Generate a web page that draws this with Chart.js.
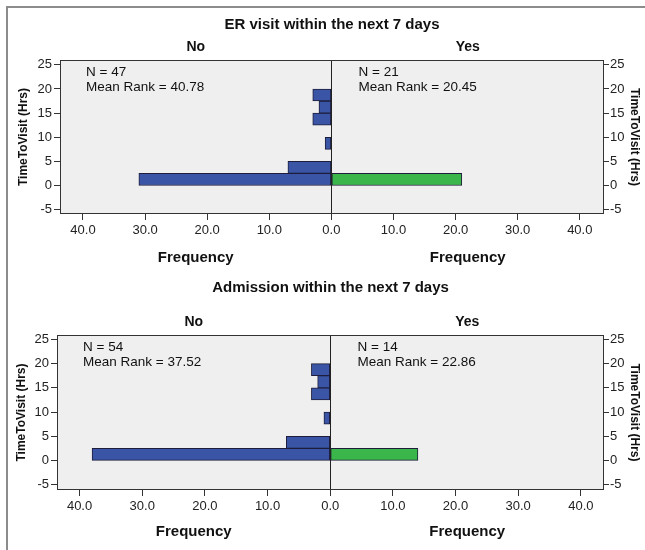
<!DOCTYPE html>
<html>
<head>
<meta charset="utf-8">
<script src="https://cdn.jsdelivr.net/npm/chart.js@4.4.1/dist/chart.umd.min.js"></script>
<style>
    body { margin: 0; background: #fff; width: 645px; height: 550px; overflow: hidden; position: relative; }
    #moldura { position: absolute; left: 6px; top: 6px; width: 700px; height: 700px; border: 2px solid #8c8c8c; }
    canvas { position: absolute; left: 0; }
</style>
</head>
<body>
<div id="moldura"></div>
<canvas id="grafER" width="645" height="275" style="top:0px"></canvas>
<canvas id="grafAdm" width="645" height="275" style="top:275px"></canvas>

<script>
// ******************* DADOS *******************

// centro de cada classe (largura 2.5 h) do histograma TimeToVisit
const binsHoras = [1.25, 3.75, 6.25, 8.75, 11.25, 13.75, 16.25, 18.75]

// frequências - ER visit
const erNao = [31, 7, 0, 1, 0, 3, 2, 3]
const erSim = [21, 0, 0, 0, 0, 0, 0, 0]

// frequências - Admission
const admNao = [38, 7, 0, 1, 0, 3, 2, 3]
const admSim = [14, 0, 0, 0, 0, 0, 0, 0]

const ticksY = [-5, 0, 5, 10, 15, 20, 25]
const ticksX = [-40, -30, -20, -10, 0, 10, 20, 30, 40]

const grupos = ['No', 'Yes']
const nER = [47, 21]
const rankER = ['40.78', '20.45']
const nAdm = [54, 14]
const rankAdm = ['37.52', '22.86']

// ******************* ESTILO *******************
const fonte = "'Liberation Sans', Arial, sans-serif"
const corNao = '#3a55a5'
const corSim = '#3bb64a'
const corBorda = '#1e1e3c'

Chart.defaults.font.family = fonte
Chart.defaults.color = '#222'

// plugin que pinta o fundo, a moldura, a linha do zero e os textos
function pluginRotulos(cfg) {
    return {
        id: 'rotulos',
        beforeDraw(chart) {
            const { ctx, chartArea: a } = chart
            ctx.save()
            ctx.fillStyle = '#efefef'
            ctx.fillRect(a.left, a.top, a.right - a.left, a.bottom - a.top)
            ctx.restore()
        },
        afterDatasetsDraw(chart) {
            const { ctx, chartArea: a, scales } = chart
            const x0 = Math.round(scales.x.getPixelForValue(0)) + 0.5
            ctx.save()
            ctx.strokeStyle = '#222'
            ctx.lineWidth = 1
            ctx.beginPath()
            ctx.moveTo(x0, a.top)
            ctx.lineTo(x0, a.bottom)
            ctx.stroke()
            ctx.strokeStyle = '#333'
            ctx.strokeRect(a.left + 0.5, a.top + 0.5, a.right - a.left - 1, a.bottom - a.top - 1)

            ctx.fillStyle = '#111'
            ctx.textAlign = 'center'
            ctx.textBaseline = 'middle'
            const cNao = (a.left + x0) / 2
            const cSim = (x0 + a.right) / 2

            // título do painel
            ctx.font = 'bold 15px ' + fonte
            ctx.fillText(cfg.titulo, (a.left + a.right) / 2, cfg.yTitulo)

            // No / Yes
            ctx.font = 'bold 14px ' + fonte
            ctx.fillText(grupos[0], cNao, cfg.yGrupo)
            ctx.fillText(grupos[1], cSim, cfg.yGrupo)

            // Frequency
            ctx.font = 'bold 15px ' + fonte
            ctx.fillText('Frequency', cNao, cfg.yFreq)
            ctx.fillText('Frequency', cSim, cfg.yFreq)

            // N e Mean Rank
            ctx.font = '13.5px ' + fonte
            ctx.textAlign = 'left'
            const yTxt = a.top + 12
            ctx.fillText('N = ' + cfg.n[0], a.left + 26, yTxt)
            ctx.fillText('Mean Rank = ' + cfg.rank[0], a.left + 26, yTxt + 15)
            ctx.fillText('N = ' + cfg.n[1], x0 + 27, yTxt)
            ctx.fillText('Mean Rank = ' + cfg.rank[1], x0 + 27, yTxt + 15)
            ctx.restore()
        }
    }
}

function eixoY(posicao, cfg) {
    return {
        type: 'linear',
        position: posicao,
        offset: false,
        min: cfg.yMin,
        max: cfg.yMax,
        afterBuildTicks: s => { s.ticks = ticksY.map(v => ({ value: v })) },
        afterFit: s => { s.width = posicao === 'left' ? cfg.larguraEsq : 645 - cfg.direita },
        ticks: { font: { size: 13 }, color: '#222', padding: posicao === 'left' ? 2 : 1 },
        grid: { offset: false, drawOnChartArea: false, tickLength: posicao === 'left' ? 6 : 5, tickColor: '#333' },
        border: { display: false },
        title: {
            display: true,
            text: 'TimeToVisit (Hrs)',
            font: { size: 12, weight: 'bold' },
            color: '#111',
            padding: { top: posicao === 'left' ? cfg.padTitEsq : 3, bottom: 0 }
        }
    }
}

function geraPiramide(idCanvas, nao, sim, cfg) {
    const ctx = document.getElementById(idCanvas)

    const estiloBarra = {
        borderColor: corBorda,
        borderWidth: 1,
        borderSkipped: false,
        grouped: false,
        barPercentage: 1,
        categoryPercentage: 1
    }

    return new Chart(ctx, {
        type: 'bar',
        data: {
            datasets: [
                Object.assign({ label: grupos[0], backgroundColor: corNao, data: binsHoras.map((b, i) => ({ x: -nao[i], y: b })) }, estiloBarra),
                Object.assign({ label: grupos[1], backgroundColor: corSim, data: binsHoras.map((b, i) => ({ x: sim[i], y: b })) }, estiloBarra)
            ]
        },
        options: {
            indexAxis: 'y',
            responsive: false,
            animation: false,
            layout: { autoPadding: false, padding: { top: cfg.topo, bottom: cfg.base, left: 0, right: 0 } },
            plugins: { legend: { display: false }, tooltip: { enabled: false }, title: { display: false } },
            scales: {
                x: {
                    type: 'linear',
                    min: cfg.xMin,
                    max: cfg.xMax,
                    afterBuildTicks: s => { s.ticks = ticksX.map(v => ({ value: v })) },
                    afterFit: s => { s.height = 30 },
                    ticks: { callback: v => Math.abs(v).toFixed(1), font: { size: 13 }, color: '#222', padding: 3, maxRotation: 0, autoSkip: false },
                    grid: { drawOnChartArea: false, tickLength: 6, tickColor: '#333' },
                    border: { display: false }
                },
                y: eixoY('left', cfg),
                yDir: eixoY('right', cfg)
            }
        },
        plugins: [pluginRotulos(cfg)]
    })
}

geraPiramide('grafER', erNao, erSim, {
    titulo: 'ER visit within the next 7 days',
    n: nER, rank: rankER,
    yTitulo: 25, yGrupo: 47, yFreq: 258,
    topo: 60, base: 31, larguraEsq: 60, direita: 604, padTitEsq: 16,
    xMin: -43.7, xMax: 43.9, yMin: -5.9, yMax: 26.0
})

geraPiramide('grafAdm', admNao, admSim, {
    titulo: 'Admission within the next 7 days',
    n: nAdm, rank: rankAdm,
    yTitulo: 13, yGrupo: 47, yFreq: 257,
    topo: 60, base: 30, larguraEsq: 57, direita: 604, padTitEsq: 14,
    xMin: -43.6, xMax: 43.7, yMin: -6.1, yMax: 25.9
})
</script>
</body>
</html>
